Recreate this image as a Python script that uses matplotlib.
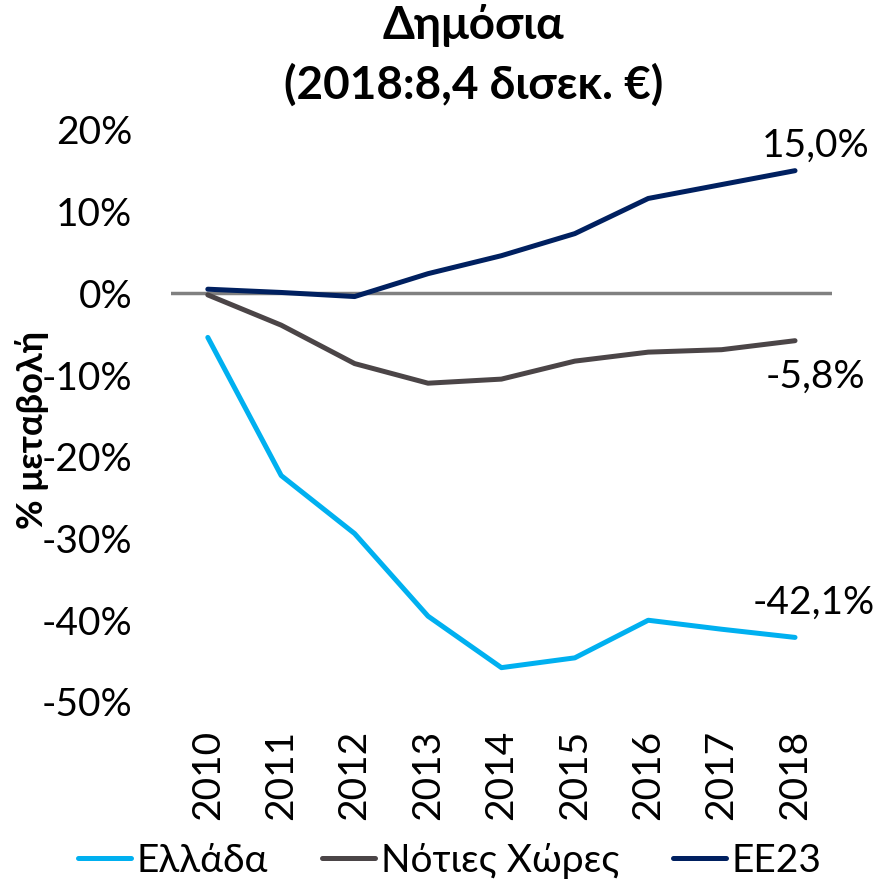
import matplotlib
matplotlib.use("Agg")
import matplotlib.pyplot as plt
import numpy as np

plt.rcParams['font.family'] = ['Lato', 'DejaVu Sans']

# data (% change vs 2010 base)
years = ["2010", "2011", "2012", "2013", "2014", "2015", "2016", "2017", "2018"]
ellada = [-5.4, -22.3, -29.4, -39.5, -45.8, -44.6, -40.0, -41.1, -42.1]
notioi = [-0.2, -3.9, -8.6, -11.0, -10.5, -8.3, -7.2, -6.9, -5.8]
ee23 = [0.5, 0.1, -0.4, 2.4, 4.6, 7.3, 11.6, 13.3, 15.0]

series_names = ["Ελλάδα", "Νότιες Χώρες", "ΕΕ23"]
colors = ["#00B0F0", "#4B4547", "#002060"]
end_labels = ["-42,1%", "-5,8%", "15,0%"]

FS = 28

fig = plt.figure(figsize=(8.82, 8.83), dpi=100)
ax = fig.add_axes([0.194, 0.205, 0.749, 0.648])

x = np.arange(len(years))
ax.axhline(0, color="#808080", lw=2.5, zorder=1)
for vals, name, c in zip([ellada, notioi, ee23], series_names, colors):
    ax.plot(x, vals, color=c, lw=3.6, label=name, solid_capstyle="round", zorder=2)

# end labels
ax.text(x[-1] + 0.25, ellada[-1] + 2.1, end_labels[0], fontsize=FS, ha="center", va="bottom")
ax.text(x[-1] + 0.28, notioi[-1] - 2.2, end_labels[1], fontsize=FS, ha="center", va="top")
ax.text(x[-1] + 0.28, ee23[-1] + 0.9, end_labels[2], fontsize=FS, ha="center", va="bottom")

ax.set_xlim(-0.5, len(years) - 0.5)
ax.set_ylim(-50, 20)
ax.set_yticks(np.arange(-50, 21, 10))
ax.set_yticklabels([f"{v}%" for v in range(-50, 21, 10)], fontsize=FS)
ax.set_xticks(x)
ax.set_xticklabels(years, rotation=90, fontsize=FS)
ax.tick_params(axis="y", length=0, pad=28)
ax.tick_params(axis="x", length=0, pad=20)
for s in ax.spines.values():
    s.set_visible(False)

ax.set_ylabel("% μεταβολή", fontsize=26, fontweight="bold", va="center")
ax.yaxis.set_label_coords(-0.21, 0.475)

fig.text(0.537, 0.995, "Δημόσια\n(2018:8,4 δισεκ. €)", fontsize=33, fontweight="bold",
         ha="center", va="top", linespacing=1.45)

leg = fig.legend(loc="lower center", bbox_to_anchor=(0.51, -0.035), ncol=3, frameon=False,
                 fontsize=FS, handlelength=1.35, handletextpad=0.15, columnspacing=1.4)

fig.savefig("out.png", dpi=100)
